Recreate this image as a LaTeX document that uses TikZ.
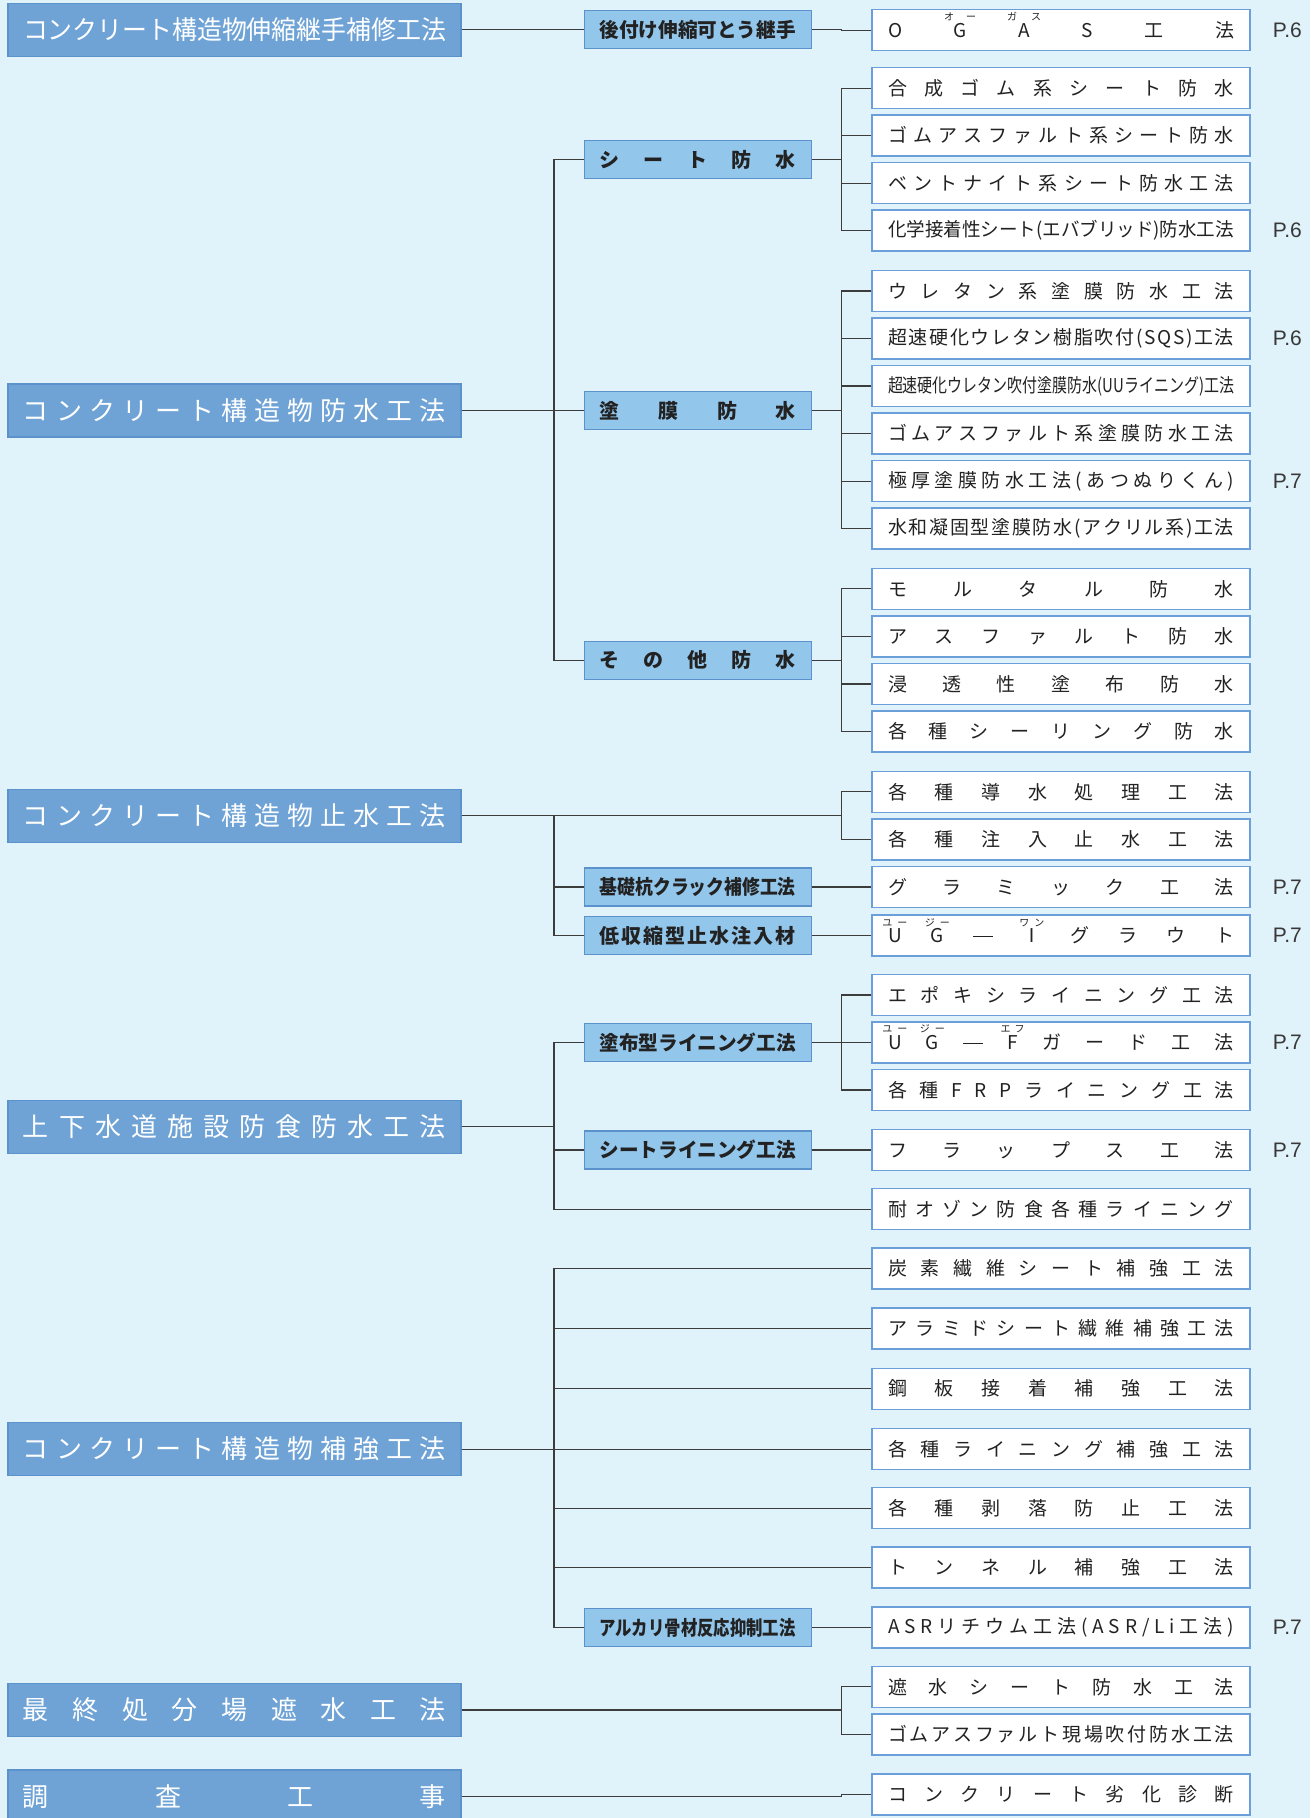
\documentclass[tikz,border=0pt]{standalone}
\usepackage{fontspec}
\usepackage{graphicx}
\usetikzlibrary{positioning}
\setmainfont{Noto Sans CJK JP}
\newfontfamily\pnfont{Liberation Sans}
\definecolor{Sky}{HTML}{E0F2FA}
\definecolor{Main}{HTML}{6FA3D6}
\definecolor{MainEdge}{HTML}{5B92CC}
\definecolor{Sub}{HTML}{93C6EB}
\definecolor{ItemEdge}{HTML}{6A9FDA}
\definecolor{Wire}{HTML}{3C3C3C}
\definecolor{Ink}{HTML}{222222}
\makeatletter
\newlength\fit@nat
\def\sp@end{}
\def\sp@loop#1#2\sp@end{#1\ifx\relax#2\relax\else\hfill\expandafter\sp@loop\fi#2\sp@end}
\newcommand\spreadtext[2]{\settowidth\fit@nat{#2}%
 \ifdim\fit@nat>#1\relax\pgfmathsetmacro\fit@r{#1/\the\fit@nat}\scalebox{\fit@r}[1]{#2}%
 \else\makebox[#1]{\sp@loop#2\sp@end}\fi}
\makeatother
\newcommand\rb[2]{\ooalign{#1\cr\hidewidth\raisebox{0.88em}[0pt][0pt]{\fontsize{10}{10}\selectfont#2}\hidewidth\cr}}
\tikzset{
 main/.style={draw=MainEdge,fill=Main,line width=1.2pt,minimum width=453pt,minimum height=53pt,inner sep=0pt,text=white,font=\fontsize{26}{26}\selectfont},
 sub/.style={draw=MainEdge,fill=Sub,line width=1.2pt,minimum width=227pt,minimum height=38pt,inner sep=0pt,text=Ink,font=\bfseries\fontsize{20}{20}\selectfont},
 item/.style={draw=ItemEdge,fill=white,line width=1.5pt,minimum width=378pt,minimum height=41pt,inner sep=0pt,text=Ink,font=\fontsize{19}{19}\selectfont},
 page/.style={font=\pnfont\fontsize{21}{21}\selectfont,text=Ink!90,inner sep=0pt},
 link/.style={draw=Wire,line width=1.1pt}
}
\begin{document}
\begin{tikzpicture}[x=1pt,y=-1pt]
\useasboundingbox (0,0) rectangle (1310,1818);
\fill[Sky] (0,0) rectangle (1310,1818);
\clip (0,0) rectangle (1310,1818);
\coordinate (bA) at (554,0);
\coordinate (bB) at (841.6,0);
% main groups
\node[main] (g1) at (234.5,29.6) {\spreadtext{423pt}{コンクリート構造物伸縮継手補修工法}};
\node[main] (g2) at (234.5,410.5) {\spreadtext{423pt}{コンクリート構造物防水工法}};
\node[main] (g3) at (234.5,815.6) {\spreadtext{423pt}{コンクリート構造物止水工法}};
\node[main] (g4) at (234.5,1126.8) {\spreadtext{423pt}{上下水道施設防食防水工法}};
\node[main] (g5) at (234.5,1449.1) {\spreadtext{423pt}{コンクリート構造物補強工法}};
\node[main] (g6) at (234.5,1710) {\spreadtext{423pt}{最終処分場遮水工法}};
\node[main] (g7) at (234.5,1796.5) {\spreadtext{423pt}{調査工事}};
% sub groups
\node[sub] (s1) at (697.75,29.6) {\spreadtext{196pt}{後付け伸縮可とう継手}};
\node[sub] (s2) at (697.75,159.4) {\spreadtext{196pt}{シート防水}};
\node[sub] (s3) at (697.75,410.5) {\spreadtext{196pt}{塗膜防水}};
\node[sub] (s4) at (697.75,660.2) {\spreadtext{196pt}{その他防水}};
\node[sub] (s5) at (697.75,887) {\spreadtext{196pt}{基礎杭クラック補修工法}};
\node[sub] (s6) at (697.75,935.5) {\spreadtext{196pt}{低収縮型止水注入材}};
\node[sub] (s7) at (697.75,1042.5) {\spreadtext{196pt}{塗布型ライニング工法}};
\node[sub] (s8) at (697.75,1150) {\spreadtext{196pt}{シートライニング工法}};
\node[sub] (s9) at (697.75,1627.6) {\spreadtext{196pt}{アルカリ骨材反応抑制工法}};
% methods
\node[item] (r1) at (1061,30.1) {\spreadtext{346pt}{O{\rb{G}{オ\kern12ptー}}{\rb{A}{ガ\kern14ptス}}S工法}};
\node[item] (r2) at (1061,88.1) {\spreadtext{346pt}{合成ゴム系シート防水}};
\node[item] (r3) at (1061,135.6) {\spreadtext{346pt}{ゴムアスファルト系シート防水}};
\node[item] (r4) at (1061,183.2) {\spreadtext{346pt}{ベントナイト系シート防水工法}};
\node[item] (r5) at (1061,230.7) {\spreadtext{346pt}{化学接着性シート(エバブリッド)防水工法}};
\node[item] (r6) at (1061,291) {\spreadtext{346pt}{ウレタン系塗膜防水工法}};
\node[item] (r7) at (1061,338.5) {\spreadtext{346pt}{超速硬化ウレタン樹脂吹付(SQS)工法}};
\node[item] (r8) at (1061,386) {\spreadtext{346pt}{超速硬化ウレタン吹付塗膜防水(UUライニング)工法}};
\node[item] (r9) at (1061,433.6) {\spreadtext{346pt}{ゴムアスファルト系塗膜防水工法}};
\node[item] (r10) at (1061,481.1) {\spreadtext{346pt}{極厚塗膜防水工法(あつぬりくん)}};
\node[item] (r11) at (1061,528.6) {\spreadtext{346pt}{水和凝固型塗膜防水(アクリル系)工法}};
\node[item] (r12) at (1061,588.9) {\spreadtext{346pt}{モルタル防水}};
\node[item] (r13) at (1061,636.4) {\spreadtext{346pt}{アスファルト防水}};
\node[item] (r14) at (1061,684) {\spreadtext{346pt}{浸透性塗布防水}};
\node[item] (r15) at (1061,731.5) {\spreadtext{346pt}{各種シーリング防水}};
\node[item] (r16) at (1061,791.8) {\spreadtext{346pt}{各種導水処理工法}};
\node[item] (r17) at (1061,839.3) {\spreadtext{346pt}{各種注入止水工法}};
\node[item] (r18) at (1061,887) {\spreadtext{346pt}{グラミック工法}};
\node[item] (r19) at (1061,935.5) {\spreadtext{346pt}{{\rb{U}{ユ\kern5ptー}}{\rb{G}{ジ\kern5ptー}}{\rule[0.3em]{20pt}{1pt}}{\rb{Ⅰ}{ワ\kern5ptン}}グラウト}};
\node[item] (r20) at (1061,995) {\spreadtext{346pt}{エポキシライニング工法}};
\node[item] (r21) at (1061,1042.5) {\spreadtext{346pt}{{\rb{U}{ユ\kern5ptー}}{\rb{G}{ジ\kern5ptー}}{\rule[0.3em]{20pt}{1pt}}{\rb{F}{エ\kern4ptフ}}ガード工法}};
\node[item] (r22) at (1061,1090) {\spreadtext{346pt}{各種FRPライニング工法}};
\node[item] (r23) at (1061,1150) {\spreadtext{346pt}{フラップス工法}};
\node[item] (r24) at (1061,1209.2) {\spreadtext{346pt}{耐オゾン防食各種ライニング}};
\node[item] (r25) at (1061,1268.3) {\spreadtext{346pt}{炭素繊維シート補強工法}};
\node[item] (r26) at (1061,1328.5) {\spreadtext{346pt}{アラミドシート繊維補強工法}};
\node[item] (r27) at (1061,1388.8) {\spreadtext{346pt}{鋼板接着補強工法}};
\node[item] (r28) at (1061,1449.1) {\spreadtext{346pt}{各種ライニング補強工法}};
\node[item] (r29) at (1061,1508.2) {\spreadtext{346pt}{各種剥落防止工法}};
\node[item] (r30) at (1061,1567.4) {\spreadtext{346pt}{トンネル補強工法}};
\node[item] (r31) at (1061,1627.6) {\spreadtext{346pt}{ASRリチウム工法(ASR/Li工法)}};
\node[item] (r32) at (1061,1686.8) {\spreadtext{346pt}{遮水シート防水工法}};
\node[item] (r33) at (1061,1734.3) {\spreadtext{346pt}{ゴムアスファルト現場吹付防水工法}};
\node[item] (r34) at (1061,1794.6) {\spreadtext{346pt}{コンクリート劣化診断}};
% page refs
\node[page,right=22pt of r1] (p1) {P.6};
\node[page,right=22pt of r5] (p2) {P.6};
\node[page,right=22pt of r7] (p3) {P.6};
\node[page,right=22pt of r10] (p4) {P.7};
\node[page,right=22pt of r18] (p5) {P.7};
\node[page,right=22pt of r19] (p6) {P.7};
\node[page,right=22pt of r21] (p7) {P.7};
\node[page,right=22pt of r23] (p8) {P.7};
\node[page,right=22pt of r31] (p9) {P.7};
\foreach \a/\b/\c in {g1/s1/bA,s1/r1/bB,g2/s2/bA,g2/s3/bA,g2/s4/bA,s2/r2/bB,s2/r3/bB,s2/r4/bB,s2/r5/bB,
 s3/r6/bB,s3/r7/bB,s3/r8/bB,s3/r9/bB,s3/r10/bB,s3/r11/bB,s4/r12/bB,s4/r13/bB,s4/r14/bB,s4/r15/bB,
 g3/r16/bB,g3/r17/bB,g3/s5/bA,g3/s6/bA,s5/r18/bB,s6/r19/bB,g4/s7/bA,g4/s8/bA,g4/r24/bA,
 s7/r20/bB,s7/r21/bB,s7/r22/bB,s8/r23/bB,g5/r25/bA,g5/r26/bA,g5/r27/bA,g5/r28/bA,g5/r29/bA,g5/r30/bA,
 g5/s9/bA,s9/r31/bB,g6/r32/bB,g6/r33/bB,g7/r34/bB}
 \draw[link] (\a.east) -- (\a.east -| \c) |- (\b.west);
\end{tikzpicture}
\end{document}
